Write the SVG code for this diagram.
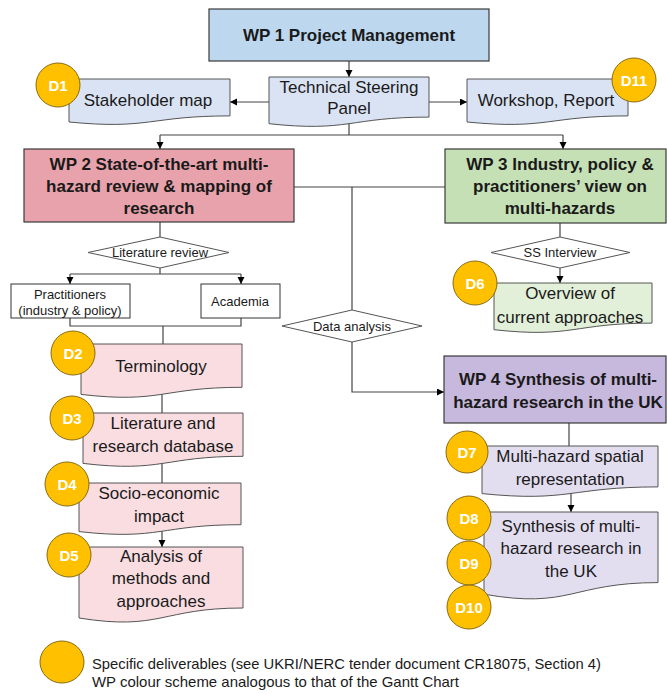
<svg xmlns="http://www.w3.org/2000/svg" width="667" height="695" viewBox="0 0 667 695">
  <defs>
    <marker id="arrow" markerUnits="userSpaceOnUse" markerWidth="8" markerHeight="8" refX="7" refY="3.5" orient="auto">
      <path d="M0,0 L7,3.5 L0,7 Z" fill="#000"/>
    </marker>
    <style>
      text { font-family: "Liberation Sans", Arial, sans-serif; fill: #1a1a1a; text-anchor: middle; dominant-baseline: central; }
      .wp { stroke: #3a3a3a; stroke-width: 1.2; }
      .wp-t { font-size: 17px; font-weight: bold; }
      .doc { stroke: #555; stroke-width: 1; }
      .doc-t { font-size: 17px; }
      .small-t { font-size: 13px; }
      .box { fill: #fff; stroke: #333; stroke-width: 1; }
      .dia { fill: #fff; stroke: #555; stroke-width: 1; }
      .conn { fill: none; stroke: #444; stroke-width: 1.2; }
      .arr { marker-end: url(#arrow); }
      .dc { fill: #ffc000; stroke: #8a6a10; stroke-width: 1; }
      .dc-t { font-size: 15px; font-weight: bold; fill: #fff; }
      .blue { fill: #bdd7ee; }
      .blue-l { fill: #dae3f3; }
      .red { fill: #e8a2ab; }
      .red-l { fill: #f9dde1; }
      .green { fill: #c5e0b4; }
      .green-l { fill: #e2f0d9; }
      .purple { fill: #c7b8dd; }
      .purple-l { fill: #e3ddf0; }
      .legend-t { font-size: 15px; text-anchor: start; }
    </style>
  </defs>

  <!-- connectors -->
  <g id="connectors">
    <path class="conn arr" d="M349,61 V77"/>
    <path class="conn arr" d="M269,102 H230"/>
    <path class="conn arr" d="M429,102 H467"/>
    <path class="conn" d="M349,118 V135 M160,135 H563"/>
    <path class="conn arr" d="M160,135 V149"/>
    <path class="conn arr" d="M563,135 V149"/>
    <path class="conn" d="M294,187 H445 M352,187 V310"/>
    <path class="conn arr" d="M352,342 V392 H444"/>
    <path class="conn" d="M160,222 V237 M160,268 V274 M70,274 H241"/>
    <path class="conn arr" d="M70,274 V284"/>
    <path class="conn arr" d="M241,274 V284"/>
    <path class="conn" d="M70,318 V326 H241 V318 M163,326 V344"/>
    <path class="conn" d="M162,394 V413 M162,463 V483"/>
    <path class="conn arr" d="M162,530 V547"/>
    <path class="conn" d="M560,223 V237"/>
    <path class="conn arr" d="M560,268 V283"/>
    <path class="conn" d="M569,423 V446"/>
    <path class="conn arr" d="M571,492 V512"/>
  </g>

  <!-- work packages -->
  <g id="wp1">
    <rect class="wp blue" x="209" y="9" width="280" height="52"/>
    <text class="wp-t" x="349" y="35">WP 1 Project Management</text>
  </g>
  <g id="wp2">
    <rect class="wp red" x="24" y="149" width="270" height="73"/>
    <text class="wp-t" x="159" y="164">WP 2 State-of-the-art  multi-</text>
    <text class="wp-t" x="159" y="186">hazard  review &amp; mapping of</text>
    <text class="wp-t" x="159" y="208">research</text>
  </g>
  <g id="wp3">
    <rect class="wp green" x="445" y="149" width="221" height="74"/>
    <text class="wp-t" x="560" y="164">WP 3 Industry,  policy &amp;</text>
    <text class="wp-t" x="560" y="186">practitioners’  view on</text>
    <text class="wp-t" x="560" y="208">multi-hazards</text>
  </g>
  <g id="wp4">
    <rect class="wp purple" x="444" y="356" width="222" height="67"/>
    <text class="wp-t" x="558" y="379">WP 4 Synthesis of multi-</text>
    <text class="wp-t" x="558" y="402">hazard  research in the UK</text>
  </g>

  <!-- steering panel and its outputs -->
  <g id="steering-panel">
    <path class="doc blue-l" d="M269,77 H429 V117.1 C349,117.1 349,132.4 269,123.7 Z"/>
    <text class="doc-t" x="349" y="87">Technical Steering</text>
    <text class="doc-t" x="349" y="108">Panel</text>
  </g>
  <g id="stakeholder-map">
    <path class="doc blue-l" d="M69,79 H230 V115.9 C149.5,115.9 149.5,129.9 69,122 Z"/>
    <text class="doc-t" x="148" y="100">Stakeholder map</text>
  </g>
  <g id="workshop-report">
    <path class="doc blue-l" d="M467,79 H628 V115.9 C547.5,115.9 547.5,129.9 467,122 Z"/>
    <text class="doc-t" x="546" y="100">Workshop, Report</text>
  </g>

  <!-- decision points -->
  <g id="literature-review">
    <polygon class="dia" points="88,252.5 160,237 229,252.5 160,268"/>
    <text class="small-t" x="160" y="252">Literature review</text>
  </g>
  <g id="data-analysis">
    <polygon class="dia" points="282,326 352,310 422,326 352,342"/>
    <text class="small-t" x="352" y="326">Data analysis</text>
  </g>
  <g id="ss-interview">
    <polygon class="dia" points="491,252.5 560,237 630,252.5 560,268"/>
    <text class="small-t" x="560" y="252">SS Interview</text>
  </g>

  <!-- review sources -->
  <g id="practitioners">
    <rect class="box" x="11" y="284" width="119" height="34"/>
    <text class="small-t" x="70" y="294">Practitioners</text>
    <text class="small-t" x="70" y="310">(industry &amp; policy)</text>
  </g>
  <g id="academia">
    <rect class="box" x="201" y="284" width="79" height="34"/>
    <text class="small-t" x="240" y="301">Academia</text>
  </g>

  <!-- WP2 deliverables -->
  <g id="terminology">
    <path class="doc red-l" d="M81,344 H242 V387.3 C161.5,387.3 161.5,403.8 81,394.4 Z"/>
    <text class="doc-t" x="161" y="366">Terminology</text>
  </g>
  <g id="literature-database">
    <path class="doc red-l" d="M83,413 H243 V456.3 C163,456.3 163,472.8 83,463.4 Z"/>
    <text class="doc-t" x="163" y="423">Literature  and</text>
    <text class="doc-t" x="163" y="446">research  database</text>
  </g>
  <g id="socio-economic">
    <path class="doc red-l" d="M79,483 H241 V524.7 C160,524.7 160,540.6 79,531.6 Z"/>
    <text class="doc-t" x="159" y="493">Socio-economic</text>
    <text class="doc-t" x="159" y="516">impact</text>
  </g>
  <g id="methods-analysis">
    <path class="doc red-l" d="M79,547 H243 V608 C161,608 161,631.1 79,618 Z"/>
    <text class="doc-t" x="161" y="556">Analysis of</text>
    <text class="doc-t" x="161" y="578">methods  and</text>
    <text class="doc-t" x="161" y="601">approaches</text>
  </g>

  <!-- WP3 deliverable -->
  <g id="current-approaches">
    <path class="doc green-l" d="M494,283 H652 V323.1 C573,323.1 573,338.4 494,329.7 Z"/>
    <text class="doc-t" x="570" y="293">Overview  of</text>
    <text class="doc-t" x="570" y="317">current  approaches</text>
  </g>

  <!-- WP4 deliverables -->
  <g id="spatial-representation">
    <path class="doc purple-l" d="M482,446 H658 V486.9 C570,486.9 570,502.5 482,493.6 Z"/>
    <text class="doc-t" x="570" y="456">Multi-hazard  spatial</text>
    <text class="doc-t" x="570" y="479">representation</text>
  </g>
  <g id="uk-synthesis">
    <path class="doc purple-l" d="M484,512 H658 V582.6 C571,582.6 571,609.4 484,594.2 Z"/>
    <text class="doc-t" x="571" y="526">Synthesis of multi-</text>
    <text class="doc-t" x="571" y="548">hazard research in</text>
    <text class="doc-t" x="571" y="571">the UK</text>
  </g>

  <!-- deliverable markers -->
  <g id="d1"><circle class="dc" cx="58" cy="85" r="22"/><text class="dc-t" x="58" y="85">D1</text></g>
  <g id="d11"><circle class="dc" cx="634" cy="80" r="22"/><text class="dc-t" x="634" y="80">D11</text></g>
  <g id="d2"><circle class="dc" cx="73" cy="353" r="22"/><text class="dc-t" x="73" y="353">D2</text></g>
  <g id="d3"><circle class="dc" cx="72" cy="418" r="22"/><text class="dc-t" x="72" y="418">D3</text></g>
  <g id="d4"><circle class="dc" cx="67" cy="484" r="22"/><text class="dc-t" x="67" y="484">D4</text></g>
  <g id="d5"><circle class="dc" cx="69" cy="555" r="22"/><text class="dc-t" x="69" y="555">D5</text></g>
  <g id="d6"><circle class="dc" cx="475" cy="283" r="22"/><text class="dc-t" x="475" y="283">D6</text></g>
  <g id="d7"><circle class="dc" cx="467" cy="452" r="21"/><text class="dc-t" x="467" y="452">D7</text></g>
  <g id="d8"><circle class="dc" cx="469" cy="518" r="22"/><text class="dc-t" x="469" y="518">D8</text></g>
  <g id="d9"><circle class="dc" cx="469" cy="563" r="22"/><text class="dc-t" x="469" y="563">D9</text></g>
  <g id="d10"><circle class="dc" cx="469" cy="607" r="22"/><text class="dc-t" x="469" y="607">D10</text></g>

  <!-- legend -->
  <g id="legend">
    <ellipse class="dc" cx="62" cy="662" rx="22" ry="21"/>
    <text class="legend-t" x="92" y="663" textLength="509" lengthAdjust="spacingAndGlyphs">Specific deliverables (see UKRI/NERC tender document CR18075, Section 4)</text>
    <text class="legend-t" x="92" y="681" textLength="367" lengthAdjust="spacingAndGlyphs">WP colour scheme analogous to that of the Gantt Chart</text>
  </g>
</svg>
